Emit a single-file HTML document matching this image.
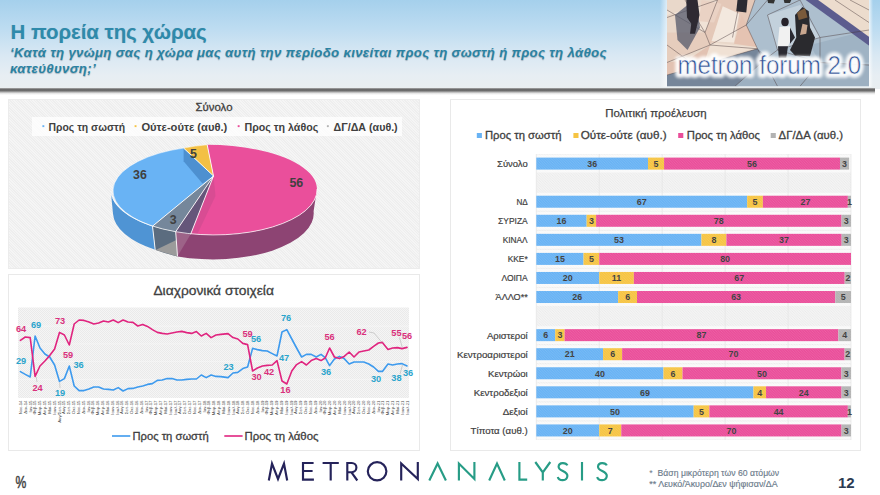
<!DOCTYPE html>
<html><head><meta charset="utf-8"><title>slide</title>
<style>
html,body{margin:0;padding:0;}
body{width:880px;height:495px;overflow:hidden;background:#fff;position:relative;font-family:"Liberation Sans",sans-serif;}
#hdr{position:absolute;left:0;top:0;width:880px;height:89px;background:linear-gradient(180deg,#a5d0ec 0%,#bddcf1 32%,#d9e8f3 62%,#e7eef3 85%,#e9eef0 100%);}
#hshadow{position:absolute;left:0;top:88px;width:875px;height:7px;background:linear-gradient(180deg,#b0b0b0 0%,#6a6a6a 18%,#6c6c6c 40%,#b2b2b2 58%,#e6e6e6 78%,#ffffff 100%);}
#title{position:absolute;left:10.5px;top:20px;font-size:20.4px;line-height:24px;font-weight:bold;color:#2e8aab;white-space:nowrap;letter-spacing:0px;text-shadow:0.3px 0.4px 0.7px rgba(40,60,80,0.22);}
#sub{position:absolute;left:10px;top:45.3px;font-size:13.2px;line-height:15.8px;font-weight:bold;font-style:italic;color:#2a82a2;white-space:nowrap;letter-spacing:0.33px;text-shadow:0.3px 0.5px 0.8px rgba(40,60,80,0.3);}
.panel{position:absolute;box-sizing:border-box;border:1px solid #e9e9e9;background:#fff;}
#p1{left:8px;top:99px;width:412px;height:169.5px;background:repeating-linear-gradient(45deg,#f5f5f5 0px,#f5f5f5 0.95px,#eeeeee 0.95px,#eeeeee 1.9px);border-color:#ececec;}
#p2{left:8px;top:274px;width:412px;height:176.7px;}
#p3{left:450px;top:99px;width:410.5px;height:351.7px;}
#pct{position:absolute;left:14px;top:473px;font-size:15px;font-weight:bold;color:#4a4a4a;}
#pg{position:absolute;left:838px;top:473.6px;font-size:15px;font-weight:bold;color:#2c3b52;}
#fn{position:absolute;left:649px;top:468.4px;font-size:8.7px;line-height:10.5px;color:#6c7b8b;white-space:pre;}
</style></head>
<body>
<svg width="0" height="0" style="position:absolute"><defs>
<pattern id="hatch2" width="2.6" height="2.6" patternUnits="userSpaceOnUse"><rect width="2.6" height="2.6" fill="#f8f8f8"/><path d="M-1,-1 L3.6,3.6 M-1,1.6 L1,3.6 M1.6,-1 L3.6,1" stroke="#eaeaea" stroke-width="0.9"/></pattern>
<pattern id="hatchw" width="2.6" height="2.6" patternUnits="userSpaceOnUse"><path d="M-1,-1 L3.6,3.6 M-1,1.6 L1,3.6 M1.6,-1 L3.6,1" stroke="#ffffff" stroke-width="0.8" opacity="0.13"/></pattern>
</defs></svg>
<div id="hdr"></div>
<div id="hshadow"></div>
<div id="title">Η πορεία της χώρας</div>
<div id="sub">‘Κατά τη γνώμη σας η χώρα μας αυτή την περίοδο κινείται προς τη σωστή ή προς τη λάθος<br>κατεύθυνση;’</div>
<div style="position:absolute;left:660px;top:0;width:7px;height:87px;background:linear-gradient(90deg,rgba(255,255,255,0),rgba(255,255,255,0.6));"></div><div style="position:absolute;left:869px;top:0;width:4px;height:87px;background:linear-gradient(90deg,rgba(255,255,255,0.75),rgba(255,255,255,0));"></div>
<svg id="photo" width="880" height="495" viewBox="0 0 880 495" style="position:absolute;left:0;top:0">
<defs>
<clipPath id="pclip"><rect x="28" y="0" width="808" height="345"/></clipPath>
<filter id="glow" x="-10%" y="-40%" width="120%" height="180%"><feGaussianBlur stdDeviation="7"/></filter>
<filter id="soft" x="-5%" y="-5%" width="110%" height="110%"><feGaussianBlur stdDeviation="2.8"/></filter>
<filter id="soft2" x="-20%" y="-20%" width="140%" height="140%"><feGaussianBlur stdDeviation="4"/></filter>
</defs>
<g transform="translate(660,0) scale(0.25)">
<g clip-path="url(#pclip)">
<g filter="url(#soft)">
<rect x="0" y="-20" width="880" height="400" fill="#e9d8ca"/>
<path d="M345,-20 L570,-20 L860,200 L860,380 L0,380 L0,310 L390,195 L340,100 Z" fill="#adbfce"/>
<path d="M430,60 L560,20 L640,150 L470,200 Z" fill="#c3d1dc"/>
<path d="M600,180 L836,120 L836,250 L640,250 Z" fill="#9fb3c4"/>
<path d="M28,300 L390,195 L430,230 L300,360 L0,360 Z" fill="#76869a"/>
<path d="M300,345 L430,230 L640,250 L836,260 L836,345 Z" fill="#9db0c1"/>
<path d="M600,-20 L860,-20 L860,180 Z" fill="#ecdccd"/>
<path d="M555,-20 L605,-20 L860,165 L860,200 Z" fill="#5b5c8e"/>
<path d="M28,60 L230,0 L180,130 L28,40 Z" fill="#f0e2d6"/>
<path d="M230,0 L380,0 L345,100 L200,180 L180,130 Z" fill="#e4c8b8"/>
<path d="M28,130 L180,130 L200,180 L28,250 Z" fill="#e6cdbd"/>
<path d="M251,25 L317,55 L296,170 L206,165 Z" fill="#f3e8de"/>
<path d="M327,60 L387,188 L296,175 Z" fill="#e5c3b2"/>
<path d="M166,0 L246,15 L216,90 L156,85 Z" fill="#ead2c4"/>
<path d="M206,170 L387,190 L230,235 L180,240 Z" fill="#f0e1d4"/>
<path d="M28,250 L110,240 L200,180 L180,240 L28,300 Z" fill="#e2c2b2"/>
<g stroke="#4a3a3c" stroke-width="2.6" fill="none" opacity="0.7">
<path d="M28,70 L230,0 M28,40 L180,130 L230,0 M180,130 L200,180 L345,100 L380,0 M200,180 L28,250 M200,180 L390,195 M28,300 L390,195 L345,100 M100,0 L180,130 M28,180 L110,240 M320,0 L290,150"/>
<path d="M390,195 L470,345 M430,0 L345,100 M560,0 L430,60 L470,200 L640,150 L560,0 M640,150 L836,120 M640,150 L640,250 L836,260 M470,200 L640,250 M700,0 L836,90 M760,0 L836,40 M640,250 L560,345 M300,345 L430,230 L470,200"/>
</g>
</g>
<!-- people -->
<g filter="url(#soft)">
<path d="M60,60 L110,20 L150,40 L160,110 L110,200 L70,160 Z" fill="#54586b" opacity="0.75"/>
<path d="M105,0 L150,0 L158,60 L150,95 L140,135 L120,135 L125,95 L108,70 Z" fill="#2e2c33"/>
<path d="M310,0 L350,0 L345,50 L305,45 Z" fill="#2b2a30"/>
<path d="M430,0 L460,0 L455,14 L432,12 Z M495,0 L525,0 L520,12 L498,12 Z" fill="#333"/>
<path d="M540,60 L570,28 L595,45 L600,110 L620,150 L600,225 L540,222 L520,200 L545,150 Z" fill="#2c2a2e"/>
<ellipse cx="500" cy="88" rx="15" ry="17" fill="#26242a"/>
<path d="M478,108 L520,105 L528,150 L512,185 L470,185 Z" fill="#f1f1f1"/>
<path d="M472,185 L512,185 L505,232 L475,232 Z" fill="#2c2a30"/>
<path d="M520,110 L540,150 L520,175 Z" fill="#2c2a30"/>
<path d="M570,95 L590,100 L585,135 L560,140 Z" fill="#c9a78f"/>
<path d="M548,50 L580,32 L590,70 L555,80 Z" fill="#7a5a3a"/>
</g>
<!-- text -->
<text x="437" y="296" font-family="Liberation Sans, sans-serif" font-size="103" text-anchor="middle" fill="#ffffff" stroke="#ffffff" stroke-width="30" stroke-linejoin="round" filter="url(#glow)" opacity="0.95" textLength="735" lengthAdjust="spacingAndGlyphs">metron forum 2.0</text>
<text x="437" y="296" font-family="Liberation Sans, sans-serif" font-size="103" text-anchor="middle" fill="#2f4f93" stroke="#eef2f7" stroke-width="2.6" paint-order="fill stroke" textLength="735" lengthAdjust="spacingAndGlyphs" id="mf">metron forum 2.0</text>
</g>
</g>
</svg>
<div class="panel" id="p1"></div>
<div class="panel" id="p2"></div>
<div class="panel" id="p3"></div>
<div id="plg" style="position:absolute;left:32px;top:117px;width:370px;height:19px;background:rgba(255,255,255,0.78);"></div>
<svg id="pie" width="880" height="495" viewBox="0 0 880 495" style="position:absolute;left:0;top:0">
<!-- sides -->
<path d="M152.5,226.2 A103,45 0 0 1 110.8,191 L113,213.8 A100.5,46 0 0 0 155.2,249.8 Z" fill="#4f94d4"/>
<path d="M317,189 A103,45 0 0 1 175.7,231.7 L177.5,256.4 A100.5,46 0 0 0 313.6,211.2 Z" fill="#8d4473"/>
<path d="M175.7,231.7 A103,45 0 0 1 152.5,226.2 L155.2,249.8 A100.5,46 0 0 0 177.5,256.4 Z" fill="#5b6c7f"/>
<path d="M155.6,249.9 L177.5,256.4 L176.4,240 Z" fill="#9b9b9b"/>
<path d="M175.7,231.7 L190.6,234.3 L177.5,256.4 Z" fill="#9d6388"/>
<!-- tops -->
<path d="M213.5,176 L152.5,226.2 A103,45 0 0 1 183.6,148.1 Z" fill="#69b3f4"/>
<path d="M183.6,148.1 L213.5,176 L202.5,183.6 L183.6,161.3 Z" fill="#4d90d0"/>
<path d="M213.5,176 L183.6,148.1 A103,45 0 0 1 207.2,144.8 Z" fill="#f3c045"/>
<path d="M213.5,176 L207.2,144.8 C267.8,144.8 317,164.6 317,189 A103,45 0 0 1 175.7,231.7 Z" fill="#ea4f9b"/>
<path d="M213.5,176 L175.7,231.7 A103,45 0 0 1 152.5,226.2 Z" fill="#75879b"/>
<path d="M213.5,176 L175.7,231.7 L190.6,234.3 Z" fill="#65567a"/>
<path d="M213.5,176 L190.6,234.3 L197,234.8 L215.5,196 Z" fill="#c84a8c" opacity="0.55"/>
<!-- white edges -->
<g fill="none" stroke="#ffffff" stroke-width="0.9" stroke-linejoin="round">
<path d="M213.5,176 L152.5,226.2 M213.5,176 L183.6,148.1 M213.5,176 L207.2,144.8 M213.5,176 L175.7,231.7 M213.5,176 L190.6,234.3"/>
<path d="M152.5,226.2 L155.2,249.8 M175.7,231.7 L177.5,256.4"/>
<path d="M110.8,191 A103,45 0 0 0 175.7,231.7 A103,45 0 0 0 317,189" opacity="0.8"/>
<path d="M152.5,226.2 A103,45 0 0 1 183.6,148.1 A103,45 0 0 1 207.2,144.8" opacity="0.5"/>
</g>
<g font-family="Liberation Sans, sans-serif" font-weight="bold" font-size="12.4" fill="#404040" text-anchor="middle">
<text x="140" y="179">36</text>
<text x="193.5" y="157.5">5</text>
<text x="296.3" y="187">56</text>
<text x="173.2" y="223.5">3</text>
</g>
</svg>
<svg id="line" width="880" height="495" viewBox="0 0 880 495" style="position:absolute;left:0;top:0">
<defs><pattern id="hatch3" width="2" height="2" patternUnits="userSpaceOnUse"><rect width="2" height="2" fill="#f5f5f5"/><rect width="1" height="1" fill="#eaeaea"/><rect x="1" y="1" width="1" height="1" fill="#eaeaea"/></pattern></defs>
<rect x="18" y="307.5" width="391" height="90.5" fill="url(#hatch3)"/>
<line x1="18" y1="379.3" x2="409" y2="379.3" stroke="#fafafa" stroke-width="0.7" opacity="0.7"/>
<line x1="18" y1="361.6" x2="409" y2="361.6" stroke="#fafafa" stroke-width="0.7" opacity="0.7"/>
<line x1="18" y1="343.9" x2="409" y2="343.9" stroke="#fafafa" stroke-width="0.7" opacity="0.7"/>
<line x1="18" y1="326.2" x2="409" y2="326.2" stroke="#fafafa" stroke-width="0.7" opacity="0.7"/>
<polyline points="20.4,371.6 25.3,374.4 30.2,377.0 35.1,336.0 40.0,348.0 44.9,354.0 49.7,357.0 54.6,365.0 59.5,381.4 64.4,378.6 69.3,366.0 74.2,386.0 79.1,390.6 84.0,390.6 88.9,389.0 93.8,387.0 98.6,387.0 103.5,389.0 108.4,389.4 113.3,390.0 118.2,387.6 123.1,391.0 128.0,388.6 132.9,388.4 137.8,387.0 142.7,386.0 147.5,384.4 152.4,383.6 157.3,380.4 162.2,380.0 167.1,378.6 172.0,378.6 176.9,380.0 181.8,380.0 186.7,379.4 191.6,379.0 196.4,379.0 201.3,375.0 206.2,377.6 211.1,375.0 216.0,376.4 220.9,376.6 228.0,377.6 233.0,373.0 237.8,372.4 242.8,368.6 247.6,367.0 252.6,348.4 257.4,349.6 262.4,350.6 267.2,351.0 272.2,353.6 277.0,356.0 282.0,332.0 286.8,329.6 291.8,339.0 296.6,348.0 301.6,357.0 306.4,354.4 311.2,354.4 316.2,357.0 321.0,354.4 325.2,357.6 329.6,365.6 334.4,359.0 339.4,356.4 344.2,358.6 349.2,364.0 354.0,362.0 359.0,362.0 363.8,362.0 368.8,364.0 373.6,367.0 378.4,371.4 382.4,371.4 388.0,364.0 392.6,365.0 397.4,364.0 402.0,363.6 407.0,366.0" fill="none" stroke="#3d9aee" stroke-width="1.6" stroke-linejoin="round" stroke-linecap="round"/>
<polyline points="20.4,340.4 25.3,337.0 30.2,337.6 35.1,376.4 40.0,366.0 44.9,361.0 49.7,355.6 54.6,349.0 59.5,332.4 64.4,335.0 69.3,345.0 74.2,324.0 79.1,320.0 84.0,320.4 88.9,322.0 93.8,324.0 98.6,323.0 103.5,321.0 108.4,322.0 113.3,320.0 118.2,322.6 123.1,320.0 128.0,322.0 132.9,322.4 137.8,326.0 142.7,324.4 147.5,326.4 152.4,329.6 157.3,332.4 162.2,333.4 167.1,334.0 172.0,333.0 176.9,332.0 181.8,331.4 186.7,332.6 191.6,333.4 196.4,331.6 201.3,336.0 206.2,333.4 211.1,337.6 216.0,335.0 220.9,334.4 228.0,333.6 233.0,337.6 237.8,339.0 242.8,343.4 247.6,344.6 252.6,371.0 257.4,368.0 262.4,366.0 267.2,365.4 272.2,365.0 277.0,360.6 282.0,381.0 286.8,384.0 291.8,371.0 296.6,364.6 301.6,361.6 306.4,365.0 311.2,360.6 316.2,358.6 321.0,360.6 325.2,358.0 329.6,348.0 334.4,357.0 339.4,358.6 344.2,356.4 349.2,352.0 354.0,357.0 359.0,352.0 363.8,351.0 368.8,350.0 373.6,346.4 378.4,343.0 382.4,342.4 388.0,349.4 392.6,348.0 397.4,347.6 402.0,348.6 407.0,347.4" fill="none" stroke="#e0247f" stroke-width="1.6" stroke-linejoin="round" stroke-linecap="round"/>
<g stroke="#a8a8a8" stroke-width="0.5" fill="none"><path d="M369,332 L374,333 L382,342.5"/><path d="M399.5,337.5 L402.3,347.5"/><path d="M400,374 L402.5,365"/><path d="M36.3,377 L37,382"/><path d="M59.7,382.5 L60,388"/></g>
<g font-family="Liberation Sans, sans-serif" font-weight="bold" font-size="9.2" text-anchor="middle">
<text x="21.0" y="332.1" fill="#d9317c">64</text>
<text x="36.0" y="327.7" fill="#2aa4cc">69</text>
<text x="60.0" y="324.1" fill="#d9317c">73</text>
<text x="21.0" y="364.1" fill="#2aa4cc">29</text>
<text x="68.0" y="357.5" fill="#d9317c">59</text>
<text x="78.6" y="367.5" fill="#2aa4cc">36</text>
<text x="37.6" y="391.1" fill="#d9317c">24</text>
<text x="60.0" y="395.7" fill="#2aa4cc">19</text>
<text x="228.6" y="369.5" fill="#2aa4cc">23</text>
<text x="247.6" y="336.7" fill="#d9317c">59</text>
<text x="256.0" y="342.1" fill="#2aa4cc">56</text>
<text x="286.0" y="321.1" fill="#2aa4cc">76</text>
<text x="284.0" y="360.7" fill="#2aa4cc">47</text>
<text x="256.6" y="380.1" fill="#d9317c">30</text>
<text x="269.0" y="374.7" fill="#d9317c">42</text>
<text x="285.4" y="393.1" fill="#d9317c">16</text>
<text x="329.6" y="339.5" fill="#d9317c">56</text>
<text x="326.0" y="375.1" fill="#2aa4cc">36</text>
<text x="361.6" y="335.1" fill="#d9317c">62</text>
<text x="396.4" y="335.7" fill="#d9317c">55</text>
<text x="407.0" y="339.1" fill="#d9317c">56</text>
<text x="376.0" y="382.1" fill="#2aa4cc">30</text>
<text x="396.4" y="381.1" fill="#2aa4cc">38</text>
<text x="408.0" y="376.1" fill="#2aa4cc">36</text>
</g>
<g font-family="Liberation Sans, sans-serif" font-size="4.3" fill="#4a4a4a" text-anchor="end">
<text transform="translate(20.40,400.5) rotate(-90)" x="0" y="1.5">Νοε-14</text>
<text transform="translate(25.23,400.5) rotate(-90)" x="0" y="1.5">Δεκ-14</text>
<text transform="translate(30.06,400.5) rotate(-90)" x="0" y="1.5">Ιαν-15</text>
<text transform="translate(34.90,400.5) rotate(-90)" x="0" y="1.5">Φεβ-15</text>
<text transform="translate(39.73,400.5) rotate(-90)" x="0" y="1.5">Μαρ-15</text>
<text transform="translate(44.56,400.5) rotate(-90)" x="0" y="1.5">Απρ-15</text>
<text transform="translate(49.40,400.5) rotate(-90)" x="0" y="1.5">Μαϊ-15</text>
<text transform="translate(54.23,400.5) rotate(-90)" x="0" y="1.5">Ιουν-15</text>
<text transform="translate(59.06,400.5) rotate(-90)" x="0" y="1.5">Αυγ/Σεπ-15</text>
<text transform="translate(63.89,400.5) rotate(-90)" x="0" y="1.5">Αυγ-15</text>
<text transform="translate(68.72,400.5) rotate(-90)" x="0" y="1.5">Σεπ-15</text>
<text transform="translate(73.56,400.5) rotate(-90)" x="0" y="1.5">Οκτ-15</text>
<text transform="translate(78.39,400.5) rotate(-90)" x="0" y="1.5">Νοε-15</text>
<text transform="translate(83.22,400.5) rotate(-90)" x="0" y="1.5">Δεκ-15</text>
<text transform="translate(88.06,400.5) rotate(-90)" x="0" y="1.5">Ιαν-16</text>
<text transform="translate(92.89,400.5) rotate(-90)" x="0" y="1.5">Φεβ-16</text>
<text transform="translate(97.72,400.5) rotate(-90)" x="0" y="1.5">Μαρ-16</text>
<text transform="translate(102.55,400.5) rotate(-90)" x="0" y="1.5">Απρ-16</text>
<text transform="translate(107.39,400.5) rotate(-90)" x="0" y="1.5">Μαϊ-16</text>
<text transform="translate(112.22,400.5) rotate(-90)" x="0" y="1.5">Ιουν-16</text>
<text transform="translate(117.05,400.5) rotate(-90)" x="0" y="1.5">Ιουλ-16</text>
<text transform="translate(121.88,400.5) rotate(-90)" x="0" y="1.5">Αυγ-16</text>
<text transform="translate(126.72,400.5) rotate(-90)" x="0" y="1.5">Σεπ-16</text>
<text transform="translate(131.55,400.5) rotate(-90)" x="0" y="1.5">Οκτ-16</text>
<text transform="translate(136.38,400.5) rotate(-90)" x="0" y="1.5">Νοε-16</text>
<text transform="translate(141.21,400.5) rotate(-90)" x="0" y="1.5">Δεκ-16</text>
<text transform="translate(146.05,400.5) rotate(-90)" x="0" y="1.5">Ιαν-17</text>
<text transform="translate(150.88,400.5) rotate(-90)" x="0" y="1.5">Φεβ-17</text>
<text transform="translate(155.71,400.5) rotate(-90)" x="0" y="1.5">Μαρ-17</text>
<text transform="translate(160.54,400.5) rotate(-90)" x="0" y="1.5">Απρ-17</text>
<text transform="translate(165.38,400.5) rotate(-90)" x="0" y="1.5">Μαϊ-17</text>
<text transform="translate(170.21,400.5) rotate(-90)" x="0" y="1.5">Ιουν-17</text>
<text transform="translate(175.04,400.5) rotate(-90)" x="0" y="1.5">Ιουλ-17</text>
<text transform="translate(179.87,400.5) rotate(-90)" x="0" y="1.5">Αυγ-17</text>
<text transform="translate(184.71,400.5) rotate(-90)" x="0" y="1.5">Σεπ-17</text>
<text transform="translate(189.54,400.5) rotate(-90)" x="0" y="1.5">Οκτ-17</text>
<text transform="translate(194.37,400.5) rotate(-90)" x="0" y="1.5">Νοε-17</text>
<text transform="translate(199.20,400.5) rotate(-90)" x="0" y="1.5">Δεκ-17</text>
<text transform="translate(204.04,400.5) rotate(-90)" x="0" y="1.5">Ιαν-18</text>
<text transform="translate(208.87,400.5) rotate(-90)" x="0" y="1.5">Φεβ-18</text>
<text transform="translate(213.70,400.5) rotate(-90)" x="0" y="1.5">Μαρ-18</text>
<text transform="translate(218.53,400.5) rotate(-90)" x="0" y="1.5">Απρ-18</text>
<text transform="translate(223.37,400.5) rotate(-90)" x="0" y="1.5">Μαϊ-18</text>
<text transform="translate(228.20,400.5) rotate(-90)" x="0" y="1.5">Ιουν-18</text>
<text transform="translate(233.03,400.5) rotate(-90)" x="0" y="1.5">Ιουλ-18</text>
<text transform="translate(237.86,400.5) rotate(-90)" x="0" y="1.5">Αυγ-18</text>
<text transform="translate(242.70,400.5) rotate(-90)" x="0" y="1.5">Σεπ-18</text>
<text transform="translate(247.53,400.5) rotate(-90)" x="0" y="1.5">Οκτ-18</text>
<text transform="translate(252.36,400.5) rotate(-90)" x="0" y="1.5">Νοε-18</text>
<text transform="translate(257.19,400.5) rotate(-90)" x="0" y="1.5">Δεκ-18</text>
<text transform="translate(262.03,400.5) rotate(-90)" x="0" y="1.5">Ιαν-19</text>
<text transform="translate(266.86,400.5) rotate(-90)" x="0" y="1.5">Φεβ-19</text>
<text transform="translate(271.69,400.5) rotate(-90)" x="0" y="1.5">Μαρ-19</text>
<text transform="translate(276.52,400.5) rotate(-90)" x="0" y="1.5">Απρ-19</text>
<text transform="translate(281.36,400.5) rotate(-90)" x="0" y="1.5">Μαϊ-19</text>
<text transform="translate(286.19,400.5) rotate(-90)" x="0" y="1.5">Ιουν-19</text>
<text transform="translate(291.02,400.5) rotate(-90)" x="0" y="1.5">Ιουλ-19</text>
<text transform="translate(295.85,400.5) rotate(-90)" x="0" y="1.5">Αυγ-19</text>
<text transform="translate(300.69,400.5) rotate(-90)" x="0" y="1.5">Σεπ-19</text>
<text transform="translate(305.52,400.5) rotate(-90)" x="0" y="1.5">Οκτ-19</text>
<text transform="translate(310.35,400.5) rotate(-90)" x="0" y="1.5">Νοε-19</text>
<text transform="translate(315.18,400.5) rotate(-90)" x="0" y="1.5">Δεκ-19</text>
<text transform="translate(320.01,400.5) rotate(-90)" x="0" y="1.5">Ιαν-20</text>
<text transform="translate(324.85,400.5) rotate(-90)" x="0" y="1.5">Φεβ-20</text>
<text transform="translate(329.68,400.5) rotate(-90)" x="0" y="1.5">Μαρ-20</text>
<text transform="translate(334.51,400.5) rotate(-90)" x="0" y="1.5">Απρ-20</text>
<text transform="translate(339.35,400.5) rotate(-90)" x="0" y="1.5">Μαϊ-20</text>
<text transform="translate(344.18,400.5) rotate(-90)" x="0" y="1.5">Ιουν-20</text>
<text transform="translate(349.01,400.5) rotate(-90)" x="0" y="1.5">Ιουλ-20</text>
<text transform="translate(353.84,400.5) rotate(-90)" x="0" y="1.5">Αυγ-20</text>
<text transform="translate(358.68,400.5) rotate(-90)" x="0" y="1.5">Σεπ-20</text>
<text transform="translate(363.51,400.5) rotate(-90)" x="0" y="1.5">Οκτ-20</text>
<text transform="translate(368.34,400.5) rotate(-90)" x="0" y="1.5">Νοε-20</text>
<text transform="translate(373.17,400.5) rotate(-90)" x="0" y="1.5">Δεκ-20</text>
<text transform="translate(378.00,400.5) rotate(-90)" x="0" y="1.5">Ιαν-21</text>
<text transform="translate(382.84,400.5) rotate(-90)" x="0" y="1.5">Φεβ-21</text>
<text transform="translate(387.67,400.5) rotate(-90)" x="0" y="1.5">Μαρ-21</text>
<text transform="translate(392.50,400.5) rotate(-90)" x="0" y="1.5">Απρ-21</text>
<text transform="translate(397.34,400.5) rotate(-90)" x="0" y="1.5">Μαϊ-21</text>
<text transform="translate(402.17,400.5) rotate(-90)" x="0" y="1.5">Ιουν-21</text>
<text transform="translate(407.00,400.5) rotate(-90)" x="0" y="1.5">Ιουλ-21</text>
</g>
<line x1="112" y1="436" x2="130.3" y2="436" stroke="#3d9aee" stroke-width="1.6"/>
<line x1="224.3" y1="436" x2="242.6" y2="436" stroke="#e0247f" stroke-width="1.6"/>
<text x="132.5" y="439.8" font-family="Liberation Sans, sans-serif" font-size="11.2" fill="#404040" stroke="#404040" stroke-width="0.3" textLength="76.2" lengthAdjust="spacingAndGlyphs" id="ll1">Προς τη σωστή</text>
<text x="244.6" y="439.8" font-family="Liberation Sans, sans-serif" font-size="11.2" fill="#404040" stroke="#404040" stroke-width="0.3" textLength="73.9" lengthAdjust="spacingAndGlyphs" id="ll2">Προς τη λάθος</text>
</svg>
<svg id="ptxt" width="880" height="495" viewBox="0 0 880 495" style="position:absolute;left:0;top:0" font-family="Liberation Sans, sans-serif">
<text x="195.5" y="111.0" font-size="11.3" fill="#404040" textLength="37.0" lengthAdjust="spacingAndGlyphs" stroke="#404040" stroke-width="0.30" >Σύνολο</text>
<rect x="42.4" y="125.2" width="1.9" height="1.9" fill="#69b3f4"/>
<text x="48.6" y="130.5" font-size="11.0" fill="#404040" textLength="76.4" lengthAdjust="spacingAndGlyphs" font-weight="bold" >Προς τη σωστή</text>
<rect x="134.6" y="125.2" width="1.9" height="1.9" fill="#f6c443"/>
<text x="141.4" y="130.5" font-size="11.0" fill="#404040" textLength="85.9" lengthAdjust="spacingAndGlyphs" font-weight="bold" >Ούτε-ούτε (αυθ.)</text>
<rect x="237.7" y="125.2" width="1.9" height="1.9" fill="#ea4e9a"/>
<text x="244.5" y="130.5" font-size="11.0" fill="#404040" textLength="73.7" lengthAdjust="spacingAndGlyphs" font-weight="bold" >Προς τη λάθος</text>
<rect x="326.9" y="125.2" width="1.9" height="1.9" fill="#b3b3b3"/>
<text x="333.6" y="130.5" font-size="11.0" fill="#404040" textLength="64.1" lengthAdjust="spacingAndGlyphs" font-weight="bold" >ΔΓ/ΔΑ (αυθ.)</text>
<text x="153.4" y="294.6" font-size="13.6" fill="#404040" textLength="120.5" lengthAdjust="spacingAndGlyphs" stroke="#404040" stroke-width="0.30" >Διαχρονικά στοιχεία</text>
</svg>
<svg id="bars" width="880" height="495" viewBox="0 0 880 495" style="position:absolute;left:0;top:0" font-family="Liberation Sans, sans-serif">
<rect x="536.30" y="154.07" width="314.70" height="285.90" fill="url(#hatch2)"/>
<rect x="536.30" y="154.67" width="314.70" height="17.86" fill="#ffffff" opacity="0.6"/>
<rect x="536.30" y="192.79" width="314.70" height="17.86" fill="#ffffff" opacity="0.6"/>
<rect x="536.30" y="211.85" width="314.70" height="17.86" fill="#ffffff" opacity="0.6"/>
<rect x="536.30" y="230.91" width="314.70" height="17.86" fill="#ffffff" opacity="0.6"/>
<rect x="536.30" y="249.97" width="314.70" height="17.86" fill="#ffffff" opacity="0.6"/>
<rect x="536.30" y="269.03" width="314.70" height="17.86" fill="#ffffff" opacity="0.6"/>
<rect x="536.30" y="288.09" width="314.70" height="17.86" fill="#ffffff" opacity="0.6"/>
<rect x="536.30" y="326.21" width="314.70" height="17.86" fill="#ffffff" opacity="0.6"/>
<rect x="536.30" y="345.27" width="314.70" height="17.86" fill="#ffffff" opacity="0.6"/>
<rect x="536.30" y="364.33" width="314.70" height="17.86" fill="#ffffff" opacity="0.6"/>
<rect x="536.30" y="383.39" width="314.70" height="17.86" fill="#ffffff" opacity="0.6"/>
<rect x="536.30" y="402.45" width="314.70" height="17.86" fill="#ffffff" opacity="0.6"/>
<rect x="536.30" y="421.51" width="314.70" height="17.86" fill="#ffffff" opacity="0.6"/>
<line x1="536.30" y1="154.07" x2="536.30" y2="439.97" stroke="#e4e4e4" stroke-width="0.7"/>
<line x1="599.24" y1="154.07" x2="599.24" y2="439.97" stroke="#e4e4e4" stroke-width="0.7"/>
<line x1="662.18" y1="154.07" x2="662.18" y2="439.97" stroke="#e4e4e4" stroke-width="0.7"/>
<line x1="725.12" y1="154.07" x2="725.12" y2="439.97" stroke="#e4e4e4" stroke-width="0.7"/>
<line x1="788.06" y1="154.07" x2="788.06" y2="439.97" stroke="#e4e4e4" stroke-width="0.7"/>
<line x1="851.00" y1="154.07" x2="851.00" y2="439.97" stroke="#e4e4e4" stroke-width="0.7"/>
<rect x="536.30" y="157.60" width="111.72" height="12.00" fill="#69b3f4"/>
<text x="592.2" y="166.8" font-size="8.9" fill="#3c3c3c" font-weight="bold" text-anchor="middle" >36</text>
<rect x="648.02" y="157.60" width="16.05" height="12.00" fill="#f6c443"/>
<text x="656.0" y="166.8" font-size="8.9" fill="#3c3c3c" font-weight="bold" text-anchor="middle" >5</text>
<rect x="664.07" y="157.60" width="175.92" height="12.00" fill="#ea4e9a"/>
<text x="752.0" y="166.8" font-size="8.9" fill="#3c3c3c" font-weight="bold" text-anchor="middle" >56</text>
<rect x="839.99" y="157.60" width="9.13" height="12.00" fill="#b3b3b3"/>
<text x="844.5" y="166.8" font-size="8.9" fill="#3c3c3c" font-weight="bold" text-anchor="middle" >3</text>
<rect x="536.30" y="157.60" width="312.81" height="12.00" fill="url(#hatchw)"/>
<text x="497.1" y="167.0" font-size="9.8" fill="#404040" textLength="30.6" lengthAdjust="spacingAndGlyphs" stroke="#404040" stroke-width="0.20" >Σύνολο</text>
<rect x="536.30" y="195.72" width="210.85" height="12.00" fill="#69b3f4"/>
<text x="641.7" y="204.9" font-size="8.9" fill="#3c3c3c" font-weight="bold" text-anchor="middle" >67</text>
<rect x="747.15" y="195.72" width="15.74" height="12.00" fill="#f6c443"/>
<text x="755.0" y="204.9" font-size="8.9" fill="#3c3c3c" font-weight="bold" text-anchor="middle" >5</text>
<rect x="762.88" y="195.72" width="84.97" height="12.00" fill="#ea4e9a"/>
<text x="805.4" y="204.9" font-size="8.9" fill="#3c3c3c" font-weight="bold" text-anchor="middle" >27</text>
<rect x="847.85" y="195.72" width="3.15" height="12.00" fill="#b3b3b3"/>
<text x="849.4" y="204.9" font-size="8.9" fill="#3c3c3c" font-weight="bold" text-anchor="middle" >1</text>
<rect x="536.30" y="195.72" width="314.70" height="12.00" fill="url(#hatchw)"/>
<text x="516.4" y="205.1" font-size="9.8" fill="#404040" textLength="11.3" lengthAdjust="spacingAndGlyphs" stroke="#404040" stroke-width="0.20" >ΝΔ</text>
<rect x="536.30" y="214.78" width="50.35" height="12.00" fill="#69b3f4"/>
<text x="561.5" y="224.0" font-size="8.9" fill="#3c3c3c" font-weight="bold" text-anchor="middle" >16</text>
<rect x="586.65" y="214.78" width="9.44" height="12.00" fill="#f6c443"/>
<text x="591.4" y="224.0" font-size="8.9" fill="#3c3c3c" font-weight="bold" text-anchor="middle" >3</text>
<rect x="596.09" y="214.78" width="245.47" height="12.00" fill="#ea4e9a"/>
<text x="718.8" y="224.0" font-size="8.9" fill="#3c3c3c" font-weight="bold" text-anchor="middle" >78</text>
<rect x="841.56" y="214.78" width="9.44" height="12.00" fill="#b3b3b3"/>
<text x="846.3" y="224.0" font-size="8.9" fill="#3c3c3c" font-weight="bold" text-anchor="middle" >3</text>
<rect x="536.30" y="214.78" width="314.70" height="12.00" fill="url(#hatchw)"/>
<text x="498.1" y="224.2" font-size="9.8" fill="#404040" textLength="29.6" lengthAdjust="spacingAndGlyphs" stroke="#404040" stroke-width="0.20" >ΣΥΡΙΖΑ</text>
<rect x="536.30" y="233.84" width="165.14" height="12.00" fill="#69b3f4"/>
<text x="618.9" y="243.0" font-size="8.9" fill="#3c3c3c" font-weight="bold" text-anchor="middle" >53</text>
<rect x="701.44" y="233.84" width="24.93" height="12.00" fill="#f6c443"/>
<text x="713.9" y="243.0" font-size="8.9" fill="#3c3c3c" font-weight="bold" text-anchor="middle" >8</text>
<rect x="726.37" y="233.84" width="115.29" height="12.00" fill="#ea4e9a"/>
<text x="784.0" y="243.0" font-size="8.9" fill="#3c3c3c" font-weight="bold" text-anchor="middle" >37</text>
<rect x="841.65" y="233.84" width="9.35" height="12.00" fill="#b3b3b3"/>
<text x="846.3" y="243.0" font-size="8.9" fill="#3c3c3c" font-weight="bold" text-anchor="middle" >3</text>
<rect x="536.30" y="233.84" width="314.70" height="12.00" fill="url(#hatchw)"/>
<text x="502.7" y="243.2" font-size="9.8" fill="#404040" textLength="25.0" lengthAdjust="spacingAndGlyphs" stroke="#404040" stroke-width="0.20" >ΚΙΝΑΛ</text>
<rect x="536.30" y="252.90" width="47.21" height="12.00" fill="#69b3f4"/>
<text x="559.9" y="262.1" font-size="8.9" fill="#3c3c3c" font-weight="bold" text-anchor="middle" >15</text>
<rect x="583.50" y="252.90" width="15.74" height="12.00" fill="#f6c443"/>
<text x="591.4" y="262.1" font-size="8.9" fill="#3c3c3c" font-weight="bold" text-anchor="middle" >5</text>
<rect x="599.24" y="252.90" width="251.76" height="12.00" fill="#ea4e9a"/>
<text x="725.1" y="262.1" font-size="8.9" fill="#3c3c3c" font-weight="bold" text-anchor="middle" >80</text>
<rect x="536.30" y="252.90" width="314.70" height="12.00" fill="url(#hatchw)"/>
<text x="507.7" y="262.3" font-size="9.8" fill="#404040" textLength="20.0" lengthAdjust="spacingAndGlyphs" stroke="#404040" stroke-width="0.20" >ΚΚΕ*</text>
<rect x="536.30" y="271.96" width="62.94" height="12.00" fill="#69b3f4"/>
<text x="567.8" y="281.2" font-size="8.9" fill="#3c3c3c" font-weight="bold" text-anchor="middle" >20</text>
<rect x="599.24" y="271.96" width="34.62" height="12.00" fill="#f6c443"/>
<text x="616.5" y="281.2" font-size="8.9" fill="#3c3c3c" font-weight="bold" text-anchor="middle" >11</text>
<rect x="633.86" y="271.96" width="210.85" height="12.00" fill="#ea4e9a"/>
<text x="739.3" y="281.2" font-size="8.9" fill="#3c3c3c" font-weight="bold" text-anchor="middle" >67</text>
<rect x="844.71" y="271.96" width="6.29" height="12.00" fill="#b3b3b3"/>
<text x="847.9" y="281.2" font-size="8.9" fill="#3c3c3c" font-weight="bold" text-anchor="middle" >2</text>
<rect x="536.30" y="271.96" width="314.70" height="12.00" fill="url(#hatchw)"/>
<text x="501.4" y="281.4" font-size="9.8" fill="#404040" textLength="26.3" lengthAdjust="spacingAndGlyphs" stroke="#404040" stroke-width="0.20" >ΛΟΙΠΑ</text>
<rect x="536.30" y="291.02" width="81.82" height="12.00" fill="#69b3f4"/>
<text x="577.2" y="300.2" font-size="8.9" fill="#3c3c3c" font-weight="bold" text-anchor="middle" >26</text>
<rect x="618.12" y="291.02" width="18.88" height="12.00" fill="#f6c443"/>
<text x="627.6" y="300.2" font-size="8.9" fill="#3c3c3c" font-weight="bold" text-anchor="middle" >6</text>
<rect x="637.00" y="291.02" width="198.26" height="12.00" fill="#ea4e9a"/>
<text x="736.1" y="300.2" font-size="8.9" fill="#3c3c3c" font-weight="bold" text-anchor="middle" >63</text>
<rect x="835.26" y="291.02" width="15.74" height="12.00" fill="#b3b3b3"/>
<text x="843.1" y="300.2" font-size="8.9" fill="#3c3c3c" font-weight="bold" text-anchor="middle" >5</text>
<rect x="536.30" y="291.02" width="314.70" height="12.00" fill="url(#hatchw)"/>
<text x="495.6" y="300.4" font-size="9.8" fill="#404040" textLength="32.1" lengthAdjust="spacingAndGlyphs" stroke="#404040" stroke-width="0.20" >ΆΛΛΟ**</text>
<rect x="536.30" y="329.14" width="18.88" height="12.00" fill="#69b3f4"/>
<text x="545.7" y="338.3" font-size="8.9" fill="#3c3c3c" font-weight="bold" text-anchor="middle" >6</text>
<rect x="555.18" y="329.14" width="9.44" height="12.00" fill="#f6c443"/>
<text x="559.9" y="338.3" font-size="8.9" fill="#3c3c3c" font-weight="bold" text-anchor="middle" >3</text>
<rect x="564.62" y="329.14" width="273.79" height="12.00" fill="#ea4e9a"/>
<text x="701.5" y="338.3" font-size="8.9" fill="#3c3c3c" font-weight="bold" text-anchor="middle" >87</text>
<rect x="838.41" y="329.14" width="12.59" height="12.00" fill="#b3b3b3"/>
<text x="844.7" y="338.3" font-size="8.9" fill="#3c3c3c" font-weight="bold" text-anchor="middle" >4</text>
<rect x="536.30" y="329.14" width="314.70" height="12.00" fill="url(#hatchw)"/>
<text x="486.9" y="338.5" font-size="9.8" fill="#404040" textLength="40.8" lengthAdjust="spacingAndGlyphs" stroke="#404040" stroke-width="0.20" >Αριστεροί</text>
<rect x="536.30" y="348.20" width="66.75" height="12.00" fill="#69b3f4"/>
<text x="569.7" y="357.4" font-size="8.9" fill="#3c3c3c" font-weight="bold" text-anchor="middle" >21</text>
<rect x="603.05" y="348.20" width="19.07" height="12.00" fill="#f6c443"/>
<text x="612.6" y="357.4" font-size="8.9" fill="#3c3c3c" font-weight="bold" text-anchor="middle" >6</text>
<rect x="622.13" y="348.20" width="222.52" height="12.00" fill="#ea4e9a"/>
<text x="733.4" y="357.4" font-size="8.9" fill="#3c3c3c" font-weight="bold" text-anchor="middle" >70</text>
<rect x="844.64" y="348.20" width="6.36" height="12.00" fill="#b3b3b3"/>
<text x="847.8" y="357.4" font-size="8.9" fill="#3c3c3c" font-weight="bold" text-anchor="middle" >2</text>
<rect x="536.30" y="348.20" width="314.70" height="12.00" fill="url(#hatchw)"/>
<text x="457.0" y="357.6" font-size="9.8" fill="#404040" textLength="70.7" lengthAdjust="spacingAndGlyphs" stroke="#404040" stroke-width="0.20" >Κεντροαριστεροί</text>
<rect x="536.30" y="367.26" width="127.15" height="12.00" fill="#69b3f4"/>
<text x="599.9" y="376.5" font-size="8.9" fill="#3c3c3c" font-weight="bold" text-anchor="middle" >40</text>
<rect x="663.45" y="367.26" width="19.07" height="12.00" fill="#f6c443"/>
<text x="673.0" y="376.5" font-size="8.9" fill="#3c3c3c" font-weight="bold" text-anchor="middle" >6</text>
<rect x="682.52" y="367.26" width="158.94" height="12.00" fill="#ea4e9a"/>
<text x="762.0" y="376.5" font-size="8.9" fill="#3c3c3c" font-weight="bold" text-anchor="middle" >50</text>
<rect x="841.46" y="367.26" width="9.54" height="12.00" fill="#b3b3b3"/>
<text x="846.2" y="376.5" font-size="8.9" fill="#3c3c3c" font-weight="bold" text-anchor="middle" >3</text>
<rect x="536.30" y="367.26" width="314.70" height="12.00" fill="url(#hatchw)"/>
<text x="488.1" y="376.7" font-size="9.8" fill="#404040" textLength="39.6" lengthAdjust="spacingAndGlyphs" stroke="#404040" stroke-width="0.20" >Κεντρώοι</text>
<rect x="536.30" y="386.32" width="217.14" height="12.00" fill="#69b3f4"/>
<text x="644.9" y="395.5" font-size="8.9" fill="#3c3c3c" font-weight="bold" text-anchor="middle" >69</text>
<rect x="753.44" y="386.32" width="12.59" height="12.00" fill="#f6c443"/>
<text x="759.7" y="395.5" font-size="8.9" fill="#3c3c3c" font-weight="bold" text-anchor="middle" >4</text>
<rect x="766.03" y="386.32" width="75.53" height="12.00" fill="#ea4e9a"/>
<text x="803.8" y="395.5" font-size="8.9" fill="#3c3c3c" font-weight="bold" text-anchor="middle" >24</text>
<rect x="841.56" y="386.32" width="9.44" height="12.00" fill="#b3b3b3"/>
<text x="846.3" y="395.5" font-size="8.9" fill="#3c3c3c" font-weight="bold" text-anchor="middle" >3</text>
<rect x="536.30" y="386.32" width="314.70" height="12.00" fill="url(#hatchw)"/>
<text x="473.8" y="395.7" font-size="9.8" fill="#404040" textLength="53.9" lengthAdjust="spacingAndGlyphs" stroke="#404040" stroke-width="0.20" >Κεντροδεξιοί</text>
<rect x="536.30" y="405.38" width="157.35" height="12.00" fill="#69b3f4"/>
<text x="615.0" y="414.6" font-size="8.9" fill="#3c3c3c" font-weight="bold" text-anchor="middle" >50</text>
<rect x="693.65" y="405.38" width="15.74" height="12.00" fill="#f6c443"/>
<text x="701.5" y="414.6" font-size="8.9" fill="#3c3c3c" font-weight="bold" text-anchor="middle" >5</text>
<rect x="709.38" y="405.38" width="138.47" height="12.00" fill="#ea4e9a"/>
<text x="778.6" y="414.6" font-size="8.9" fill="#3c3c3c" font-weight="bold" text-anchor="middle" >44</text>
<rect x="847.85" y="405.38" width="3.15" height="12.00" fill="#b3b3b3"/>
<text x="849.4" y="414.6" font-size="8.9" fill="#3c3c3c" font-weight="bold" text-anchor="middle" >1</text>
<rect x="536.30" y="405.38" width="314.70" height="12.00" fill="url(#hatchw)"/>
<text x="502.7" y="414.8" font-size="9.8" fill="#404040" textLength="25.0" lengthAdjust="spacingAndGlyphs" stroke="#404040" stroke-width="0.20" >Δεξιοί</text>
<rect x="536.30" y="424.44" width="62.94" height="12.00" fill="#69b3f4"/>
<text x="567.8" y="433.6" font-size="8.9" fill="#3c3c3c" font-weight="bold" text-anchor="middle" >20</text>
<rect x="599.24" y="424.44" width="22.03" height="12.00" fill="#f6c443"/>
<text x="610.3" y="433.6" font-size="8.9" fill="#3c3c3c" font-weight="bold" text-anchor="middle" >7</text>
<rect x="621.27" y="424.44" width="220.29" height="12.00" fill="#ea4e9a"/>
<text x="731.4" y="433.6" font-size="8.9" fill="#3c3c3c" font-weight="bold" text-anchor="middle" >70</text>
<rect x="841.56" y="424.44" width="9.44" height="12.00" fill="#b3b3b3"/>
<text x="846.3" y="433.6" font-size="8.9" fill="#3c3c3c" font-weight="bold" text-anchor="middle" >3</text>
<rect x="536.30" y="424.44" width="314.70" height="12.00" fill="url(#hatchw)"/>
<text x="470.6" y="433.8" font-size="9.8" fill="#404040" textLength="57.1" lengthAdjust="spacingAndGlyphs" stroke="#404040" stroke-width="0.20" >Τίποτα (αυθ.)</text>
<rect x="476.8" y="133" width="5.1" height="5" fill="#69b3f4"/>
<text x="485.0" y="139.1" font-size="11.2" fill="#404040" textLength="76.4" lengthAdjust="spacingAndGlyphs" stroke="#404040" stroke-width="0.30" >Προς τη σωστή</text>
<rect x="573.4" y="133" width="5.1" height="5" fill="#f6c443"/>
<text x="580.7" y="139.1" font-size="11.2" fill="#404040" textLength="85.9" lengthAdjust="spacingAndGlyphs" stroke="#404040" stroke-width="0.30" >Ούτε-ούτε (αυθ.)</text>
<rect x="678.2" y="133" width="5.1" height="5" fill="#ea4e9a"/>
<text x="686.8" y="139.1" font-size="11.2" fill="#404040" textLength="73.2" lengthAdjust="spacingAndGlyphs" stroke="#404040" stroke-width="0.30" >Προς τη λάθος</text>
<rect x="770.7" y="133" width="5.1" height="5" fill="#b3b3b3"/>
<text x="778.6" y="139.1" font-size="11.2" fill="#404040" textLength="64.4" lengthAdjust="spacingAndGlyphs" stroke="#404040" stroke-width="0.30" >ΔΓ/ΔΑ (αυθ.)</text>
<text x="605.2" y="117.0" font-size="11.5" fill="#404040" textLength="101.4" lengthAdjust="spacingAndGlyphs" stroke="#404040" stroke-width="0.25" >Πολιτική προέλευση</text>
</svg>
<svg id="logo" width="880" height="495" viewBox="0 0 880 495" style="position:absolute;left:0;top:0">
<g fill="none" stroke="#25235a" stroke-width="2.15" stroke-linejoin="miter" stroke-linecap="butt">
<path d="M268.8,480.5 L272,463.6 L278,479 L284,463.6 L287.2,480.5"/>
<path d="M313.6,463 L303,463 L303,479.6 L313.9,479.6 M303,471 L312.6,471"/>
<path d="M322.6,463 L338.8,463 M330.7,463 L330.7,480.5"/>
<path d="M347.3,480.5 L347.3,463 L351.8,463 A4.6,4.6 0 0 1 351.8,472.2 L347.3,472.2 M351.3,472.2 L357.3,480.5"/>
<ellipse cx="377.1" cy="471.3" rx="9.3" ry="9.1"/>
<path d="M401.2,480.5 L401.2,463.5 L417.8,479 L417.8,462"/>
</g>
<g fill="none" stroke="#279c86" stroke-width="2.15" stroke-linejoin="miter" stroke-linecap="butt">
<path d="M429.3,480.5 L437.6,463.5 L445.9,480.5"/>
<path d="M458.9,480.5 L458.9,463.5 L474.4,479 L474.4,462"/>
<path d="M489.2,480.5 L497,463.5 L504.8,480.5"/>
<path d="M519.4,462 L519.4,479.6 L527.2,479.6"/>
<path d="M535.3,462 L542.8,472.3 L550.3,462 M542.8,472 L542.8,480.5"/>
<path d="M567.4,465.4 C566,462.4 559,461.8 558.6,466.6 C558.4,471.5 567.6,470.6 567.4,476 C567,481.6 558.8,481 557.8,477"/>
<path d="M582,462 L582,480.5"/>
<path d="M606.8,465.4 C605.4,462.4 598.4,461.8 598,466.6 C597.8,471.5 607,470.6 606.8,476 C606.4,481.6 598.2,481 597.2,477"/>
</g>
</svg>
<svg width="880" height="495" style="position:absolute;left:0;top:0" font-family="Liberation Sans, sans-serif"><text x="15.5" y="487.8" font-size="16.4" fill="#454545" textLength="10.8" lengthAdjust="spacingAndGlyphs" stroke="#454545" stroke-width="0.50" >%</text>
</svg>
<div id="pg">12</div>
<svg width="880" height="495" style="position:absolute;left:0;top:0" font-family="Liberation Sans, sans-serif"><text x="649.3" y="476.4" font-size="8.7" fill="#6c7b8b" >*</text>
<text x="657.6" y="476.4" font-size="8.7" fill="#6c7b8b" textLength="121.6" lengthAdjust="spacingAndGlyphs" stroke="#6c7b8b" stroke-width="0.15" >Βάση μικρότερη των 60 ατόμων</text>
<text x="649.3" y="486.9" font-size="8.7" fill="#6c7b8b" textLength="128.4" lengthAdjust="spacingAndGlyphs" stroke="#6c7b8b" stroke-width="0.15" >** Λευκό/Άκυρο/Δεν ψήφισαν/ΔΑ</text>
</svg>
</body></html>
